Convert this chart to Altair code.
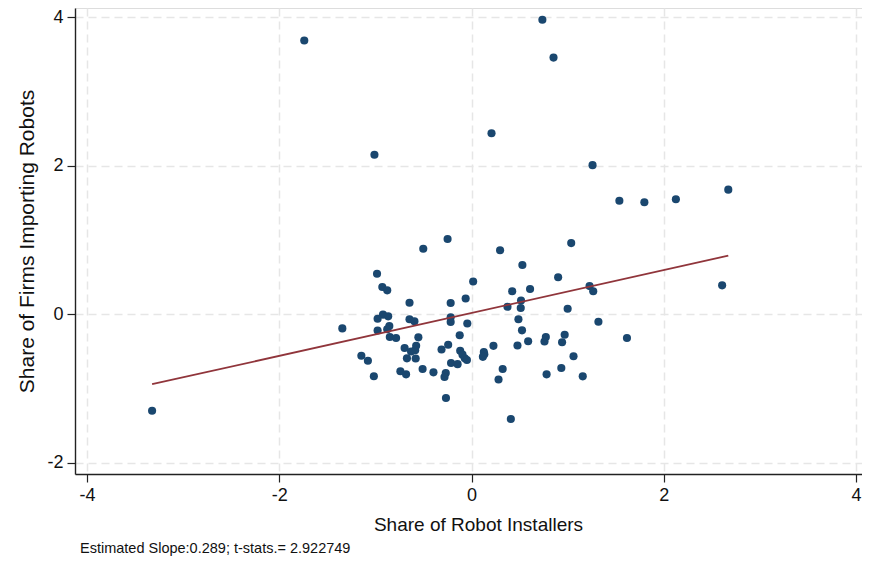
import altair as alt
import pandas as pd

# Scatter points (share of robot installers, share of firms importing robots)
x_vals = [
    -1.74, -1.01, 0.737, 0.853, 0.208, 1.259, 1.538, 1.798, 2.126, 2.671,
    1.037, -3.323, -1.344, 2.607, 0.901, 1.228, 1.266, 1.000, 1.320, 0.969,
    0.942, 1.617, 1.061, 0.934, 1.157,
    -0.502, -0.249, -0.983, -0.928, -0.877, -0.645, -0.921, -0.867, -0.977, -0.645,
    -0.594, -0.977, -0.855, -0.877, -0.850, -0.785, -0.553, -0.696, -0.576, -0.586,
    -0.629, -0.672, -0.581, -1.146, -1.078, -1.016, -0.740, -0.681, -0.509, -0.396,
    -0.312, -0.243, -0.268, -0.281, -0.266, -0.213, -0.145, -0.123, -0.118, -0.094,
    -0.070, -0.048, -0.217, -0.217, -0.217, -0.061, 0.017, -0.044, 0.128, 0.133,
    0.118, 0.228, 0.324, 0.281, 0.409, 0.297, 0.529, 0.423, 0.609, 0.515,
    0.374, 0.512, 0.488, 0.525, 0.589, 0.478, 0.759, 0.773, 0.781,
]
y_vals = [
    3.69, 2.15, 3.97, 3.46, 2.44, 2.01, 1.53, 1.51, 1.55, 1.68,
    0.96, -1.30, -0.19, 0.39, 0.50, 0.38, 0.31, 0.075, -0.10, -0.275,
    -0.377, -0.32, -0.566, -0.724, -0.836,
    0.884, 1.015, 0.547, 0.368, 0.323, 0.156, -0.005, -0.027, -0.059, -0.067,
    -0.094, -0.218, -0.158, -0.202, -0.306, -0.319, -0.310, -0.454, -0.423, -0.485,
    -0.501, -0.593, -0.596, -0.558, -0.625, -0.834, -0.768, -0.809, -0.737, -0.782,
    -0.474, -0.410, -0.791, -0.845, -1.128, -0.656, -0.672, -0.282, -0.491, -0.544,
    -0.592, -0.616, 0.152, -0.040, -0.104, 0.213, 0.442, -0.124, -0.508, -0.539,
    -0.573, -0.425, -0.737, -0.879, -1.411, 0.863, 0.664, 0.311, 0.341, 0.186,
    0.102, 0.085, -0.066, -0.216, -0.363, -0.420, -0.367, -0.306, -0.809,
]
# Fitted line (slope as reported in the note, intercept)
fit_slope = [0.289]
fit_intercept = [0.018]

x_ticks = [-4, -2, 0, 2, 4]
y_ticks = [-2, 0, 2, 4]
x_title = "Share of Robot Installers"
y_title = "Share of Firms Importing Robots"
note_text = ["Estimated Slope:0.289; t-stats.= 2.922749"]

df = pd.DataFrame({"x": x_vals, "y": y_vals})
fit_x = [min(x_vals), max(x_vals)]
fit_df = pd.DataFrame({"x": fit_x, "y": [fit_intercept[0] + fit_slope[0] * v for v in fit_x]})
note_df = pd.DataFrame({"t": note_text})

W, H = 787, 466
FONT = "Liberation Sans"
DOT = "#1a476f"
FIT = "#90353b"
INK = "#111111"
GRID = "#e6e6e6"

xs = alt.Scale(domain=[-4.125, 4.062], nice=False, zero=False)
ys = alt.Scale(domain=[-2.152, 4.128], nice=False, zero=False)

lab = "datum.value < 0 ? '-' + abs(datum.value) : '' + datum.value"

x_axis = alt.Axis(
    values=x_ticks, title=x_title, labelExpr=lab,
    grid=True, gridDash=[8, 5], gridColor=GRID, gridWidth=1.5,
    domainColor="#222222", domainWidth=1.4,
    tickColor="#222222", tickSize=8, tickWidth=1.2,
    labelFont=FONT, labelFontSize=18, labelColor=INK, labelPadding=4,
    labelFlush=False, labelOverlap=False,
    titleFont=FONT, titleFontSize=19, titleFontWeight="normal", titleColor=INK,
    titleX=403, titleY=56, titleBaseline="alphabetic", titleAlign="center",
)
y_axis = alt.Axis(
    values=y_ticks, title=y_title, labelExpr=lab,
    grid=True, gridDash=[8, 5], gridColor=GRID, gridWidth=1.5,
    domainColor="#222222", domainWidth=1.4,
    tickColor="#222222", tickSize=8, tickWidth=1.2,
    labelFont=FONT, labelFontSize=18, labelColor=INK, labelPadding=4,
    labelFlush=False, labelOverlap=False,
    titleFont=FONT, titleFontSize=21, titleFontWeight="normal", titleColor=INK,
    titleAngle=270, titleX=-42, titleY=233, titleBaseline="alphabetic", titleAlign="center",
)

points = alt.Chart(df).mark_circle(size=66, color=DOT, opacity=1).encode(
    x=alt.X("x:Q", scale=xs, axis=x_axis),
    y=alt.Y("y:Q", scale=ys, axis=y_axis),
)

fit = alt.Chart(fit_df).mark_line(color=FIT, strokeWidth=1.8).encode(
    x=alt.X("x:Q", scale=xs),
    y=alt.Y("y:Q", scale=ys),
)

note = alt.Chart(note_df).mark_text(
    align="left", baseline="alphabetic", font=FONT, fontSize=14.5, color=INK
).encode(
    x=alt.value(5), y=alt.value(H + 79), text="t:N"
)

chart = alt.layer(points, fit, note).properties(
    width=W, height=H,
    padding={"left": 67, "top": 0, "right": 0, "bottom": 82},
    autosize=alt.AutoSizeParams(type="none"),
).configure_view(strokeWidth=0).configure(background="white")

chart.save("out.html", embed_options={"renderer": "svg", "actions": False})
